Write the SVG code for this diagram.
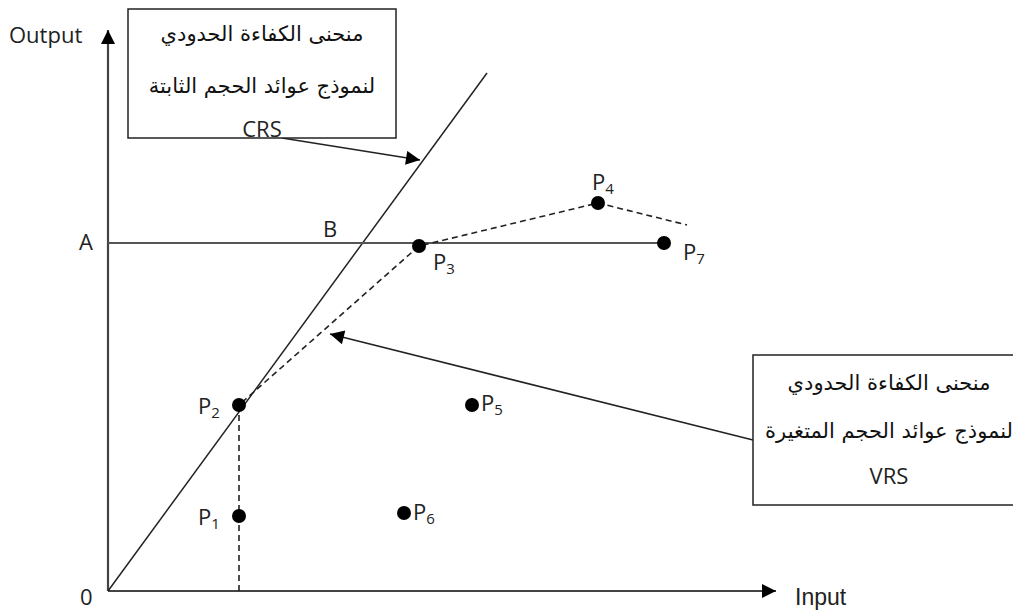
<svg xmlns="http://www.w3.org/2000/svg" width="1013" height="613" viewBox="0 0 1013 613">
<style>
.lbl{font-family:"Open Sans","Liberation Sans",sans-serif;font-size:22px;fill:#222}
.sub{font-size:15px}
.ar{font-family:"DejaVu Sans","Noto Sans",sans-serif;font-size:21px;fill:#111}
.box{fill:#fff;stroke:#222;stroke-width:1.5}
.axis{stroke:#444;stroke-width:2.2;fill:none}
.solid{stroke:#222;stroke-width:1.5;fill:none}
.dash{stroke:#222;stroke-width:1.6;fill:none;stroke-dasharray:6 4}
.dot{fill:#000}
</style>
<defs>
<marker id="ahb" viewBox="0 0 12 12" refX="12" refY="6" markerWidth="16" markerHeight="14" markerUnits="userSpaceOnUse" orient="auto">
<path d="M0,0 L12,6 L0,12 z" fill="#000"/>
</marker>
</defs>
<g id="connectors">
<line class="axis" x1="108" y1="591" x2="108" y2="30" marker-end="url(#ahb)"/>
<line class="axis" x1="108" y1="591" x2="776" y2="591" marker-end="url(#ahb)"/>
<line id="crs-line" class="solid" x1="108" y1="591" x2="487" y2="73"/>
<line id="a-line" stroke="#555" stroke-width="2" x1="108" y1="243" x2="664" y2="243"/>
<polyline id="vrs-line" class="dash" points="239,591 239,405 419,246 598,203 687,225"/>
<line class="solid" stroke-width="2" x1="282" y1="138" x2="420" y2="160" marker-end="url(#ahb)"/>
<line class="solid" stroke-width="2" x1="753" y1="440" x2="330" y2="334" marker-end="url(#ahb)"/>
</g>
<g id="axis-labels">
<text class="lbl" x="9" y="43">Output</text>
<text x="795" y="605" style="font-family:'Liberation Sans',sans-serif;font-size:23px;fill:#222">Input</text>
<text class="lbl" x="80" y="605">0</text>
<text class="lbl" x="79" y="250">A</text>
<text class="lbl" x="323" y="237">B</text>
</g>
<g id="box-crs">
<rect class="box" x="128" y="9" width="268" height="129"/>
<text class="ar" x="262" y="41" text-anchor="middle" direction="rtl">منحنى الكفاءة الحدودي</text>
<text class="ar" x="262" y="93" text-anchor="middle" direction="rtl">لنموذج عوائد الحجم الثابتة</text>
<text class="lbl" x="262" y="137" text-anchor="middle">CRS</text>
</g>
<g id="box-vrs">
<rect class="box" x="753" y="355" width="275" height="150"/>
<text class="ar" x="889" y="390" text-anchor="middle" direction="rtl">منحنى الكفاءة الحدودي</text>
<text class="ar" x="889" y="438" text-anchor="middle" direction="rtl">لنموذج عوائد الحجم المتغيرة</text>
<text class="lbl" x="889" y="484" text-anchor="middle">VRS</text>
</g>
<g id="p1"><circle class="dot" cx="239" cy="516" r="7"/><text class="lbl" x="198" y="525">P<tspan class="sub" dy="4">1</tspan></text></g>
<g id="p2"><circle class="dot" cx="239" cy="405" r="7"/><text class="lbl" x="198" y="414">P<tspan class="sub" dy="4">2</tspan></text></g>
<g id="p3"><circle class="dot" cx="419" cy="246" r="7"/><text class="lbl" x="433" y="270">P<tspan class="sub" dy="4">3</tspan></text></g>
<g id="p4"><circle class="dot" cx="598" cy="203" r="7"/><text class="lbl" x="592" y="190">P<tspan class="sub" dy="4">4</tspan></text></g>
<g id="p5"><circle class="dot" cx="472" cy="405" r="7"/><text class="lbl" x="481" y="411">P<tspan class="sub" dy="4">5</tspan></text></g>
<g id="p6"><circle class="dot" cx="404" cy="513" r="7"/><text class="lbl" x="413" y="520">P<tspan class="sub" dy="4">6</tspan></text></g>
<g id="p7"><circle class="dot" cx="664" cy="243" r="7"/><text class="lbl" x="683" y="260">P<tspan class="sub" dy="4">7</tspan></text></g>
</svg>
